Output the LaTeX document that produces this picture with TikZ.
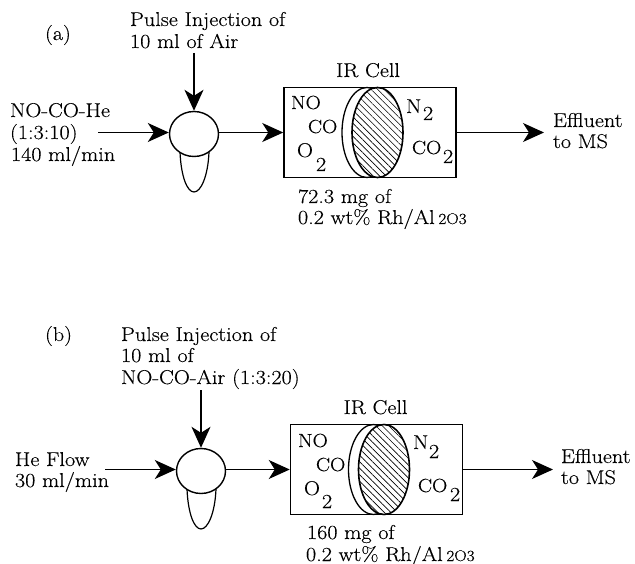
\documentclass[tikz,border=0pt]{standalone}
\usepackage{fontspec}
\setmainfont{Latin Modern Roman}[FakeBold=0.3,FakeStretch=1.11]
\usetikzlibrary{arrows.meta,patterns.meta,shapes.geometric}
\tikzset{
  flow/.style={line width=1.4pt,-{Stealth[length=21pt,width=19pt,inset=6pt]}},
  plainline/.style={line width=1.2pt},
  txt/.style={anchor=base west,inner sep=0pt,outer sep=0pt,font=\fontsize{20}{22}\selectfont},
  gas/.style={anchor=base west,inner sep=0pt,outer sep=0pt,font=\fontsize{19}{22}\selectfont},
  sm/.style={anchor=base west,inner sep=0pt,outer sep=0pt,font=\fontsize{20}{22}\selectfont},
  celltitle/.style={anchor=base,inner sep=0pt,outer sep=0pt,font=\fontsize{20}{22}\selectfont},
  valve/.style={draw,ellipse,line width=1.4pt,fill=white,minimum width=49pt,minimum height=45pt,inner sep=0pt},
  cellbox/.style={draw,line width=1.5pt,minimum width=172pt,minimum height=90pt,inner sep=0pt},
  disc/.style={draw,ellipse,line width=1.3pt,fill=white,minimum width=50pt,minimum height=90pt,inner sep=0pt},
  hatched/.style={draw,ellipse,line width=1.6pt,minimum width=51pt,minimum height=90pt,inner sep=0pt,preaction={fill=white},pattern={Lines[angle=-45,distance=4.6pt,line width=0.6pt]}}
}
\newcommand{\smalltwo}{\hspace{-3pt}{\fontsize{15.5}{17}\selectfont 2O3}}
\begin{document}
\begin{tikzpicture}[x=1pt,y=-1pt]
\useasboundingbox (0,0) rectangle (635,564);

% ---------- panel (a)
\node[txt] (la) at (45,40) {(a)};
\node[txt] (pa1) at (130,26) {Pulse Injection of};
\node[txt] (pa2) at (130,48) {10 ml of Air};
\node[txt] (ia1) at (10,117) {NO-CO-He};
\node[txt] (ia2) at (10,139) {(1:3:10)};
\node[txt] (ia3) at (11,161) {140 ml/min};
\node[celltitle] (ca) at (368,77) {IR Cell};

\coordinate (ina) at (98,132.5);
\coordinate (topa) at (194,53);
\coordinate (outa) at (544,132.5);
\draw[plainline] (180,152) .. controls (181,176) and (187,192) .. (194,192) .. controls (201,192) and (208,176) .. (209,152);
\node[valve] (va) at (194,134) {};
\node[cellbox] (ba) at (370,132.5) {};
\node[disc] (da) at (367,132.5) {};
\node[hatched] (ha) at (377.5,132.5) {};

\draw[flow] (ina) -- (ina -| va.west);
\draw[flow] (topa) -- (va.north);
\draw[flow] (va.east |- ba.west) -- (ba.west);
\draw[flow] (ba.east) -- (outa);

\node[gas] (noa) at (291,109) {NO};
\node[gas] (coa) at (308,133) {CO};
\node[sm] (oa) at (297,157) {O};
\node[sm] (oa2) at (316,171) {2};
\node[sm] (na) at (406,113) {N};
\node[sm] (na2) at (423,120) {2};
\node[gas] (cob) at (412,154) {CO};
\node[sm] (cob2) at (443,163) {2};
\node[txt] (ma) at (298,203) {72.3 mg of};
\node[txt] (wa) at (298,224) {0.2 wt\% Rh/Al \smalltwo};
\node[txt] (ea1) at (553,127) {Effluent};
\node[txt] (ea2) at (553,148) {to MS};

% ---------- panel (b)
\node[txt] (lb) at (45,341) {(b)};
\node[txt] (pb1) at (121,341) {Pulse Injection of};
\node[txt] (pb2) at (121,362) {10 ml of};
\node[txt] (pb3) at (121,384) {NO-CO-Air (1:3:20)};
\node[txt] (ib1) at (15,466) {He Flow};
\node[txt] (ib2) at (15,487) {30 ml/min};
\node[celltitle] (cb) at (375.5,414) {IR Cell};

\coordinate (inb) at (105,469.5);
\coordinate (topb) at (201,390);
\coordinate (outb) at (553,469.5);
\draw[plainline] (187,489) .. controls (188,513) and (194,529) .. (201,529) .. controls (208,529) and (215,513) .. (216,489);
\node[valve] (vb) at (201,471) {};
\node[cellbox] (bb) at (376.5,469.5) {};
\node[disc] (db) at (373.5,469.5) {};
\node[hatched] (hb) at (384,469.5) {};

\draw[flow] (inb) -- (inb -| vb.west);
\draw[flow] (topb) -- (vb.north);
\draw[flow] (vb.east |- bb.west) -- (bb.west);
\draw[flow] (bb.east) -- (outb);

\node[gas] (nob) at (298,447) {NO};
\node[gas] (cob1) at (316,471) {CO};
\node[sm] (ob) at (304,495) {O};
\node[sm] (ob2) at (322,508) {2};
\node[sm] (nb) at (413,449) {N};
\node[sm] (nb2) at (429,458) {2};
\node[gas] (cobb) at (418,492) {CO};
\node[sm] (cobb2) at (450,501) {2};
\node[txt] (mb) at (307,539) {160 mg of};
\node[txt] (wb) at (306,561) {0.2 wt\% Rh/Al \smalltwo};
\node[txt] (eb1) at (561,463) {Effluent};
\node[txt] (eb2) at (561,484) {to MS};
\end{tikzpicture}
\end{document}
